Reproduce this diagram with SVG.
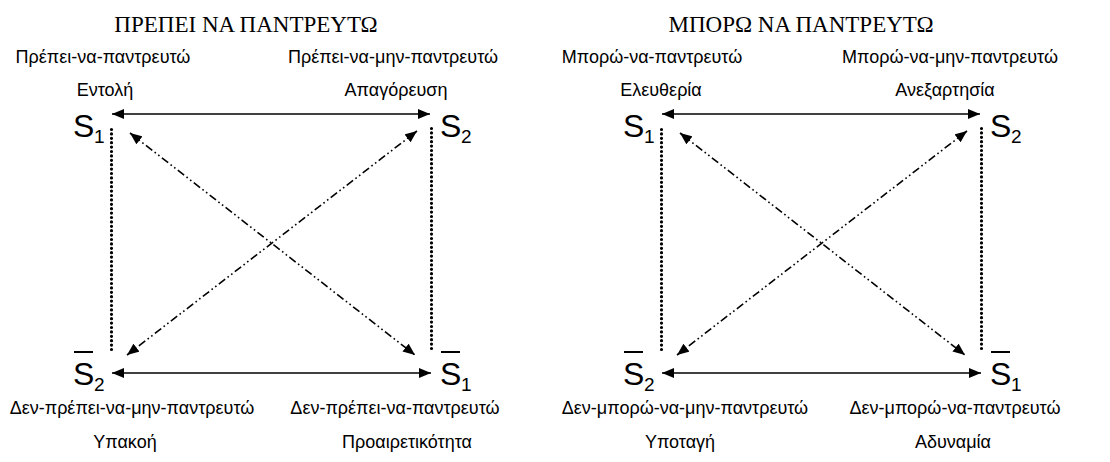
<svg xmlns="http://www.w3.org/2000/svg" width="1110" height="462" viewBox="0 0 1110 462">
<style>
.title{font-family:"Liberation Serif","Times New Roman",serif;font-size:23px;fill:#000;text-anchor:middle}
.lbl{font-family:"Liberation Sans",Arial,sans-serif;font-size:18px;fill:#000;text-anchor:middle}
.sym{font-family:"Liberation Sans",Arial,sans-serif;font-size:32px;fill:#000}
.sub{font-family:"Liberation Sans",Arial,sans-serif;font-size:19px;fill:#000}
.bar{stroke:#000;stroke-width:2}
.solid{stroke:#000;stroke-width:1.6;fill:none;marker-start:url(#ah);marker-end:url(#ah)}
.dashdot{stroke:#000;stroke-width:1.6;fill:none;stroke-dasharray:8,3,1.6,3,1.6,3;marker-start:url(#ah);marker-end:url(#ah)}
.dots{stroke:#000;stroke-width:3.2;fill:none;stroke-linecap:round;stroke-dasharray:0,4.4}
</style>
<defs>
<marker id="ah" viewBox="0 0 12 10" refX="12" refY="5" markerWidth="12" markerHeight="10" markerUnits="userSpaceOnUse" orient="auto-start-reverse">
<path d="M0,0 L12,5 L0,10 z" fill="#000"/>
</marker>
</defs>

<g id="left-title"><text class="title" x="246" y="32">ΠΡΕΠΕΙ ΝΑ ΠΑΝΤΡΕΥΤΩ</text></g>
<g id="right-title"><text class="title" x="801" y="32">ΜΠΟΡΩ ΝΑ ΠΑΝΤΡΕΥΤΩ</text></g>

<g id="connectors">
<line class="solid" x1="112" y1="114" x2="430" y2="114"/>
<line class="solid" x1="112" y1="373" x2="431" y2="373"/>
<line class="dots" x1="111.5" y1="129.5" x2="111.5" y2="352"/>
<line class="dots" x1="431.5" y1="128.5" x2="431.5" y2="351"/>
<line class="dashdot" x1="130" y1="133" x2="415" y2="355"/>
<line class="dashdot" x1="417" y1="131" x2="127" y2="355"/>

<line class="solid" x1="662" y1="114" x2="980" y2="114"/>
<line class="solid" x1="662" y1="373" x2="981" y2="373"/>
<line class="dots" x1="661.5" y1="129.5" x2="661.5" y2="352"/>
<line class="dots" x1="981.5" y1="128.5" x2="981.5" y2="351"/>
<line class="dashdot" x1="680" y1="133" x2="965" y2="355"/>
<line class="dashdot" x1="967" y1="131" x2="677" y2="355"/>
</g>

<g id="L-S1">
<text class="lbl" x="103" y="63">Πρέπει-να-παντρευτώ</text>
<text class="lbl" x="105" y="96">Εντολή</text>
<text class="sym" x="73" y="137">S</text><text class="sub" x="94" y="143">1</text>
</g>
<g id="L-S2">
<text class="lbl" x="393" y="63">Πρέπει-να-μην-παντρευτώ</text>
<text class="lbl" x="396" y="96">Απαγόρευση</text>
<text class="sym" x="440" y="137">S</text><text class="sub" x="461" y="143">2</text>
</g>
<g id="L-notS2">
<line class="bar" x1="74" y1="352" x2="93" y2="352"/>
<text class="sym" x="73" y="385">S</text><text class="sub" x="94" y="391">2</text>
<text class="lbl" x="132" y="414">Δεν-πρέπει-να-μην-παντρευτώ</text>
<text class="lbl" x="125" y="448">Υπακοή</text>
</g>
<g id="L-notS1">
<line class="bar" x1="441" y1="352" x2="460" y2="352"/>
<text class="sym" x="440" y="385">S</text><text class="sub" x="461" y="391">1</text>
<text class="lbl" x="395" y="414">Δεν-πρέπει-να-παντρευτώ</text>
<text class="lbl" x="407" y="448">Προαιρετικότητα</text>
</g>

<g id="R-S1">
<text class="lbl" x="652" y="63">Μπορώ-να-παντρευτώ</text>
<text class="lbl" x="661" y="96">Ελευθερία</text>
<text class="sym" x="623" y="137">S</text><text class="sub" x="644" y="143">1</text>
</g>
<g id="R-S2">
<text class="lbl" x="950" y="63">Μπορώ-να-μην-παντρευτώ</text>
<text class="lbl" x="945" y="96">Ανεξαρτησία</text>
<text class="sym" x="990" y="137">S</text><text class="sub" x="1011" y="143">2</text>
</g>
<g id="R-notS2">
<line class="bar" x1="624" y1="352" x2="643" y2="352"/>
<text class="sym" x="623" y="385">S</text><text class="sub" x="644" y="391">2</text>
<text class="lbl" x="685" y="414">Δεν-μπορώ-να-μην-παντρευτώ</text>
<text class="lbl" x="680" y="448">Υποταγή</text>
</g>
<g id="R-notS1">
<line class="bar" x1="991" y1="352" x2="1010" y2="352"/>
<text class="sym" x="990" y="385">S</text><text class="sub" x="1011" y="391">1</text>
<text class="lbl" x="955" y="414">Δεν-μπορώ-να-παντρευτώ</text>
<text class="lbl" x="953" y="448">Αδυναμία</text>
</g>
</svg>
